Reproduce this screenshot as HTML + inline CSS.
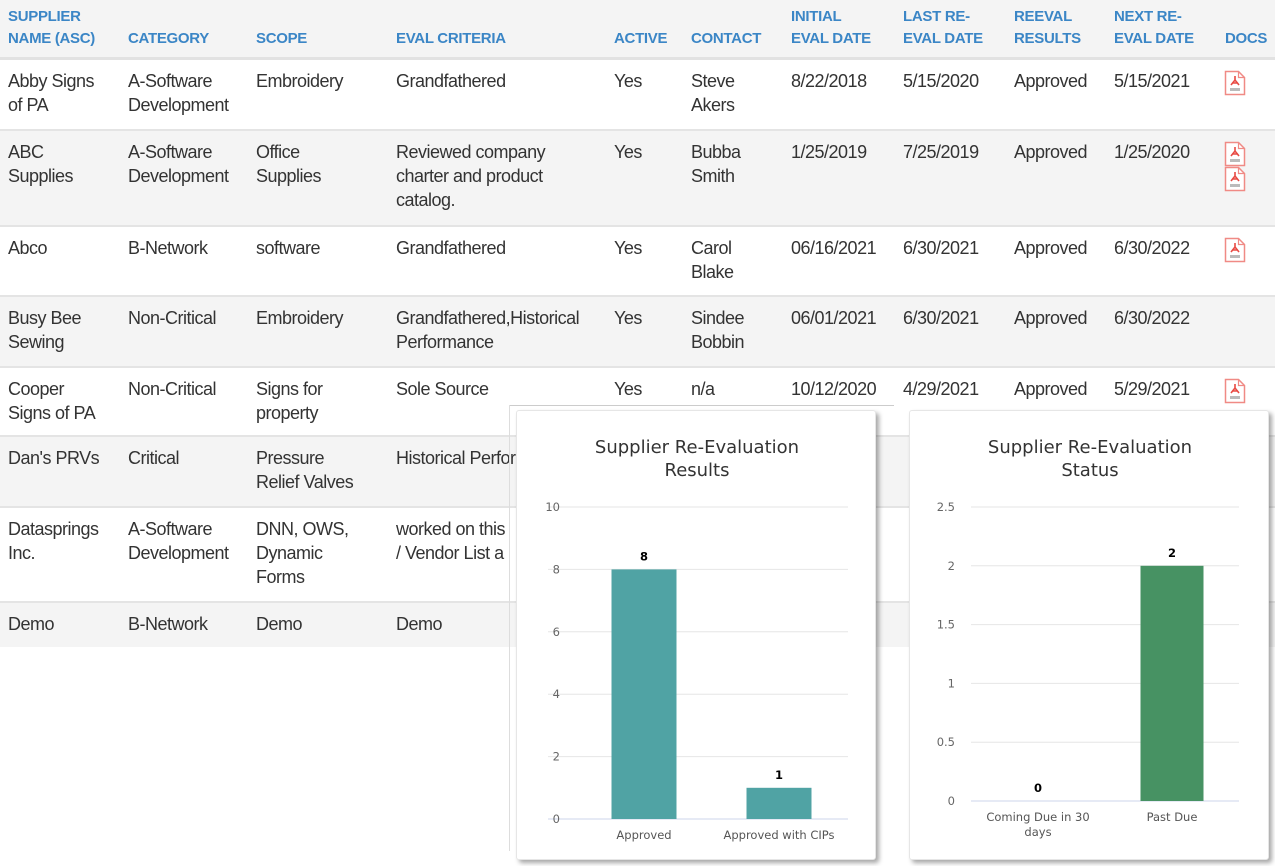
<!DOCTYPE html>
<html><head><meta charset="utf-8"><style>
*{box-sizing:border-box}
body{margin:0;width:1275px;height:851px;overflow:hidden;background:#fff;font-family:"Liberation Sans",Arial,sans-serif;position:relative}
.hdr{position:absolute;left:0;top:0;width:1275px;height:60px;background:#f4f4f4;border-bottom:3px solid #e2e2e2}
.h{position:absolute;color:#3b86c6;font-weight:bold;font-size:15px;line-height:22px;bottom:7px;letter-spacing:-0.3px}
.row{position:absolute;left:0;width:1275px;border-bottom:2px solid #e4e4e4}
.c{position:absolute;top:9px;font-size:18px;line-height:24px;color:#333;letter-spacing:-0.5px}
.pdf{position:absolute;width:21px;height:25px}
.card{position:absolute;top:410px;width:360px;height:450px;background:#fff;border:1px solid #e6e6e6;border-radius:3px;box-shadow:3px 3px 5px rgba(0,0,0,0.35)}
svg text{font-family:"DejaVu Sans",sans-serif}
</style></head><body>
<div class="hdr">
<div class="h" style="left:8px">SUPPLIER<br>NAME (ASC)</div>
<div class="h" style="left:128px">CATEGORY</div>
<div class="h" style="left:256px">SCOPE</div>
<div class="h" style="left:396px">EVAL CRITERIA</div>
<div class="h" style="left:614px">ACTIVE</div>
<div class="h" style="left:691px">CONTACT</div>
<div class="h" style="left:791px">INITIAL<br>EVAL DATE</div>
<div class="h" style="left:903px">LAST RE-<br>EVAL DATE</div>
<div class="h" style="left:1014px">REEVAL<br>RESULTS</div>
<div class="h" style="left:1114px">NEXT RE-<br>EVAL DATE</div>
<div class="h" style="left:1225px">DOCS</div>
</div>
<div id="rows"></div>
<div style="position:absolute;left:509px;top:405px;width:385px;height:1px;background:#ccc"></div>
<div style="position:absolute;left:509px;top:405px;width:1px;height:446px;background:#ddd"></div>
<div class="card" style="left:516px">
<svg width="360" height="450" id="c1"></svg></div>
<div class="card" style="left:909px">
<svg width="360" height="450" id="c2"></svg></div>
<script>
const rows=[
[60,71,['Abby Signs<br>of PA','A-Software<br>Development','Embroidery','Grandfathered','Yes','Steve<br>Akers','8/22/2018','5/15/2020','Approved','5/15/2021'],1,'#fff'],
[131,96,['ABC<br>Supplies','A-Software<br>Development','Office<br>Supplies','Reviewed company<br>charter and product<br>catalog.','Yes','Bubba<br>Smith','1/25/2019','7/25/2019','Approved','1/25/2020'],2,'#f4f4f4'],
[227,70,['Abco','B-Network','software','Grandfathered','Yes','Carol<br>Blake','06/16/2021','6/30/2021','Approved','6/30/2022'],1,'#fff'],
[297,71,['Busy Bee<br>Sewing','Non-Critical','Embroidery','Grandfathered,Historical<br>Performance','Yes','Sindee<br>Bobbin','06/01/2021','6/30/2021','Approved','6/30/2022'],0,'#f4f4f4'],
[368,69,['Cooper<br>Signs of PA','Non-Critical','Signs for<br>property','Sole Source','Yes','n/a','10/12/2020','4/29/2021','Approved','5/29/2021'],1,'#fff'],
[437,71,["Dan's PRVs",'Critical','Pressure<br>Relief Valves','Historical Performance','','','','','',''],0,'#f4f4f4'],
[508,95,['Datasprings<br>Inc.','A-Software<br>Development','DNN, OWS,<br>Dynamic<br>Forms','worked on this<br>/ Vendor List a','','','','','',''],0,'#fff'],
[603,44,['Demo','B-Network','Demo','Demo','','','','','',''],0,'#f4f4f4']];
const xs=[8,128,256,396,614,691,791,903,1014,1114];
const names=['supplier-name','category','scope','eval-criteria','active','contact','initial-eval-date','last-reeval-date','reeval-results','next-reeval-date'];
const pdfSvg='<svg width="22" height="26" viewBox="0 0 22 26"><path d="M1.5 1.5h13l6 6v17h-19z" fill="#fff" stroke="#f08a85" stroke-width="1.5"/><path d="M14.5 1.5v6h6" fill="none" stroke="#f08a85" stroke-width="1.2"/><path d="M11 6 L11 10 L7 15 M11 10 L15 15 M8 13 H14" fill="none" stroke="#e84a43" stroke-width="1.6"/><rect x="6" y="18" width="10" height="3" fill="#bbb"/></svg>';
const R=document.getElementById('rows');
rows.forEach((r,i)=>{const d=document.createElement('div');d.className='row';


d.style.top=r[0]+'px';d.style.height=r[1]+'px';d.style.background=r[4];
if(i==7)d.style.borderBottom='none';
r[2].forEach((t,j)=>{if(!t)return;const c=document.createElement('div');c.className='c';c.style.left=xs[j]+'px';c.innerHTML=t;


d.appendChild(c);});
for(let k=0;k<r[3];k++){const p=document.createElement('div');p.className='pdf';p.style.left='1224px';p.style.top=(10+k*25)+'px';p.innerHTML=pdfSvg;


d.appendChild(p);}
R.appendChild(d);});

const c1Cats=['Approved','Approved with CIPs'];
const c1Vals=[8,1];
const c1Ticks=[0,2,4,6,8,10];
const c2Cats=[['Coming Due in 30','days'],['Past Due']];
const c2Vals=[0,2];
const c2Ticks=[0,0.5,1,1.5,2,2.5];
const NS='http://www.w3.org/2000/svg';
function el(svg,tag,a,txt){const e=document.createElementNS(NS,tag);for(const k in a)e.setAttribute(k,a[k]);if(txt!==undefined)e.textContent=txt;svg.appendChild(e);return e;}
function chart(id,title,cats,vals,ticks,max,x0,x1,bx0,bx1,labX,y0,y1,color,bw){
const s=document.getElementById(id);
const t=el(s,'text',{x:180,y:42,'text-anchor':'middle','font-size':18,fill:'#333'});


title.forEach((l,i)=>{const sp=document.createElementNS(NS,'tspan');sp.setAttribute('x',180);sp.setAttribute('dy',i?23:0);sp.textContent=l;t.appendChild(sp);});
const yS=v=>y0-(v/max)*(y0-y1);
ticks.forEach(v=>{const g=el(s,'line',{x1:x0,x2:x1,y1:yS(v),y2:yS(v),stroke:v==0?'#ccd6eb':'#e6e6e6'});


const l=el(s,'text',{x:labX,y:yS(v)+4,'text-anchor':'end','font-size':11.5,fill:'#666'},String(v));

});
const band=(bx1-bx0)/cats.length;
cats.forEach((c,i)=>{const cx=bx0+band*(i+0.5);const v=vals[i];
const b=el(s,'rect',{x:cx-bw/2,y:yS(v),width:bw,height:yS(0)-yS(v),fill:color});


const vl=el(s,'text',{x:cx,y:yS(v)-9,'text-anchor':'middle','font-size':11.5,'font-weight':'bold',fill:'#000'},String(v));


const lines=Array.isArray(c)?c:[c];
lines.forEach((ln,k)=>{const xl=el(s,'text',{x:cx,y:yS(0)+20+k*15,'text-anchor':'middle','font-size':11.5,fill:'#555'},ln);

});});
}
chart('c1',['Supplier Re-Evaluation','Results'],c1Cats,c1Vals,c1Ticks,10,31,331,59.5,329.5,43,408,96,'#50a3a4',65);
chart('c2',['Supplier Re-Evaluation','Status'],c2Cats,c2Vals,c2Ticks,2.5,61,329,61,329,45,390,96,'#479263',63);
</script>
</body></html>
